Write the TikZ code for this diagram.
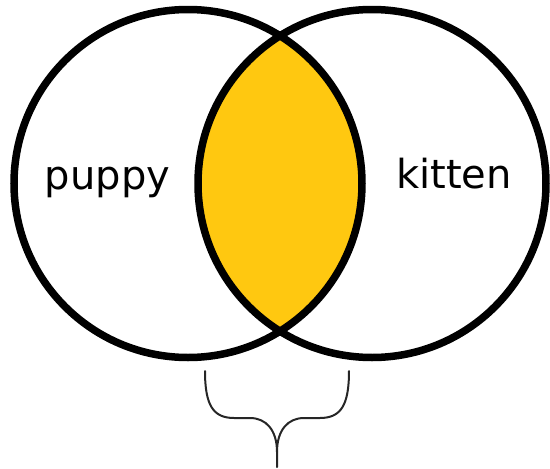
\documentclass[tikz,border=0pt]{standalone}
\usepackage{fontspec}
\setmainfont{DejaVu Sans}
\usetikzlibrary{positioning}
\definecolor{lensgold}{RGB}{255,200,16}

\begin{document}
\begin{tikzpicture}[
        x=1pt, y=-1pt,
        ring/.style={draw=black, line width=7.5pt},
        lbl/.style={font=\fontsize{40}{48}\selectfont, anchor=base, inner sep=0pt},
        brc/.style={draw=black!85, line width=2pt, line cap=round},
    ]
    \useasboundingbox (0,0) rectangle (550,469);

    % ----- Sets -----
    \coordinate (pup) at (188,183.5);
    \coordinate (kit) at (372,183.5);

    % overlap
    \begin{scope}
        \clip (pup) circle[radius=174pt];
        \fill[lensgold] (kit) circle[radius=174pt];
    \end{scope}
    \draw[ring] (pup) circle[radius=174pt];
    \draw[ring] (kit) circle[radius=174pt];

    \node[lbl] (puppy) at (107.5,189) {puppy};
    \node[lbl] (kitten) at (454,188) {kitten};

    % ----- Brace -----
    \draw[brc] (205,371) .. controls (205,405) and (213,418) .. (234,418) -- (250,418)
        .. controls (266,418) and (277,430) .. (277,452) -- (277,467);
    \draw[brc] (349,371) .. controls (349,405) and (341,418) .. (320,418) -- (304,418)
        .. controls (288,418) and (277,430) .. (277,452);

\end{tikzpicture}
\end{document}
